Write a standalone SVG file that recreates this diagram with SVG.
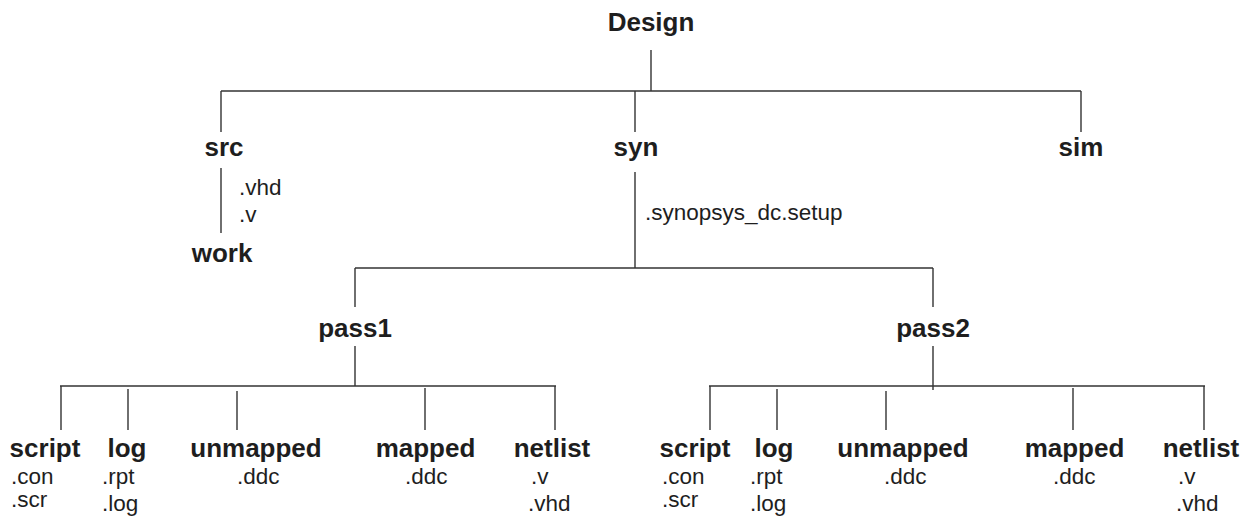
<svg xmlns="http://www.w3.org/2000/svg" width="1260" height="519" viewBox="0 0 1260 519">
<style>
.b{font-family:"Liberation Sans",Arial,sans-serif;font-weight:bold;font-size:26px;fill:#1e1e1e;text-anchor:middle}
.r{font-family:"Liberation Sans",Arial,sans-serif;font-size:22.5px;fill:#1e1e1e}
.c line{stroke:#333;stroke-width:1.4}
</style>
<rect width="1260" height="519" fill="#fff"/>
<g class="c" id="connectors">
<line x1="651" y1="50" x2="651" y2="91"/>
<line x1="221" y1="91" x2="1081" y2="91"/>
<line x1="221" y1="91" x2="221" y2="132"/>
<line x1="635" y1="91" x2="635" y2="132"/>
<line x1="1081" y1="91" x2="1081" y2="132"/>
<line x1="221" y1="168" x2="221" y2="233"/>
<line x1="635" y1="172" x2="635" y2="268"/>
<line x1="355" y1="268" x2="933" y2="268"/>
<line x1="355" y1="268" x2="355" y2="307"/>
<line x1="933" y1="268" x2="933" y2="307"/>
<line x1="355" y1="346" x2="355" y2="386"/>
<line x1="60" y1="386" x2="556" y2="386"/>
<line x1="61" y1="386" x2="61" y2="430"/>
<line x1="128" y1="389" x2="128" y2="430"/>
<line x1="237" y1="391" x2="237" y2="430"/>
<line x1="425" y1="388" x2="425" y2="430"/>
<line x1="555" y1="386" x2="555" y2="430"/>
<line x1="933" y1="346" x2="933" y2="390"/>
<line x1="709" y1="386" x2="1205" y2="386"/>
<line x1="710" y1="386" x2="710" y2="430"/>
<line x1="777" y1="389" x2="777" y2="430"/>
<line x1="886" y1="391" x2="886" y2="430"/>
<line x1="1073" y1="388" x2="1073" y2="430"/>
<line x1="1204" y1="386" x2="1204" y2="430"/>
</g>
<g id="design"><text class="b" x="651" y="31">Design</text></g>
<g id="src"><text class="b" x="224" y="156">src</text>
<text class="r" x="239" y="195">.vhd</text><text class="r" x="239" y="222">.v</text></g>
<g id="work"><text class="b" x="222" y="262">work</text></g>
<g id="syn"><text class="b" x="636" y="156">syn</text>
<text class="r" x="645" y="220">.synopsys_dc.setup</text></g>
<g id="sim"><text class="b" x="1081" y="156">sim</text></g>
<g id="pass1"><text class="b" x="355" y="337">pass1</text></g>
<g id="pass2"><text class="b" x="933" y="337">pass2</text></g>
<g id="p1-script"><text class="b" x="45" y="457">script</text>
<text class="r" x="11" y="484">.con</text><text class="r" x="11" y="507">.scr</text></g>
<g id="p1-log"><text class="b" x="127" y="457">log</text>
<text class="r" x="102" y="484">.rpt</text><text class="r" x="102" y="511">.log</text></g>
<g id="p1-unmapped"><text class="b" x="256" y="457">unmapped</text>
<text class="r" x="237" y="484">.ddc</text></g>
<g id="p1-mapped"><text class="b" x="425.5" y="457">mapped</text>
<text class="r" x="405" y="484">.ddc</text></g>
<g id="p1-netlist"><text class="b" x="552" y="457">netlist</text>
<text class="r" x="531" y="484">.v</text><text class="r" x="528" y="511">.vhd</text></g>
<g id="p2-script"><text class="b" x="695" y="457">script</text>
<text class="r" x="662" y="484">.con</text><text class="r" x="662" y="507">.scr</text></g>
<g id="p2-log"><text class="b" x="774" y="457">log</text>
<text class="r" x="750" y="484">.rpt</text><text class="r" x="750" y="511">.log</text></g>
<g id="p2-unmapped"><text class="b" x="903" y="457">unmapped</text>
<text class="r" x="884" y="484">.ddc</text></g>
<g id="p2-mapped"><text class="b" x="1074.5" y="457">mapped</text>
<text class="r" x="1053" y="484">.ddc</text></g>
<g id="p2-netlist"><text class="b" x="1201" y="457">netlist</text>
<text class="r" x="1178" y="484">.v</text><text class="r" x="1176" y="511">.vhd</text></g>
</svg>
